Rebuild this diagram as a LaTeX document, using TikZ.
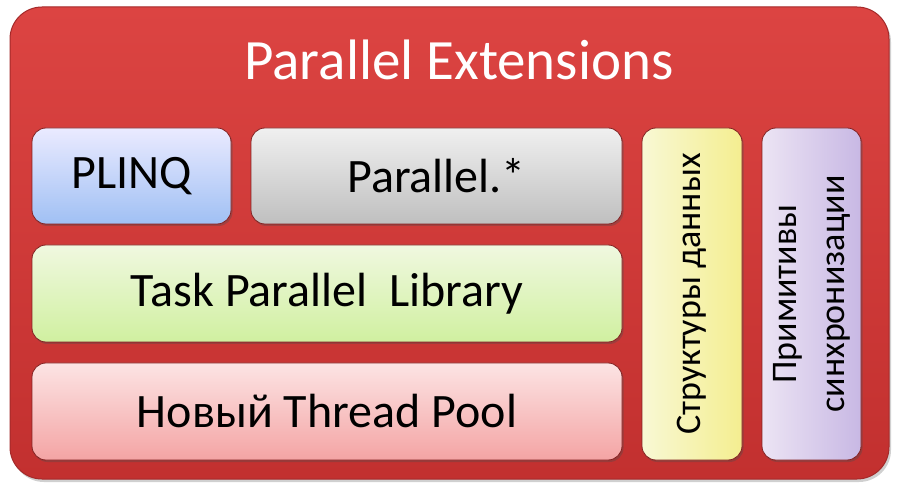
\documentclass[tikz,border=0pt]{standalone}
\usepackage{fontspec}
\setmainfont{Carlito}
\usetikzlibrary{shadows}
\definecolor{redtop}{HTML}{DC4442}
\definecolor{redbot}{HTML}{C2302F}
\definecolor{redline}{HTML}{A42A2A}
\tikzset{
  box/.style={rounded corners=14pt, draw=redline!80!black, line width=0.8pt,
    drop shadow={shadow xshift=1.5pt, shadow yshift=-2pt, opacity=0.35, fill=black!70},
    font=\fontsize{48}{52}\selectfont, text=black, inner sep=0pt},
  vtext/.style={rotate=90, align=center, font=\fontsize{36}{48}\selectfont},
}
\begin{document}
\begin{tikzpicture}[x=1pt,y=-1pt]
\useasboundingbox (0,0) rectangle (900,494);
\fill[white] (0,0) rectangle (900,494);
% outer
\draw[rounded corners=32pt, draw=redline, line width=1pt, top color=redtop, bottom color=redbot,
  drop shadow={shadow xshift=2pt, shadow yshift=-3pt, opacity=0.3, fill=black!60}]
  (10,7) rectangle (889,479);
\node[text=white, font=\fontsize{57}{60}\selectfont] (title) at (459,60) {Parallel Extensions};
% boxes
\path[box, top color=blue!8!white, bottom color={rgb,255:red,160;green,192;blue,244}]
  (32,128) rectangle node (plinq) {PLINQ} (231,224);
\path[box, top color=black!6, bottom color=black!25]
  (251,128) rectangle node (par) {Parallel.*} (622,224);
\path[box, top color={rgb,255:red,240;green,248;blue,224}, bottom color={rgb,255:red,208;green,240;blue,160}]
  (32,245) rectangle node (tpl) {Task Parallel\ \ Library} (622,342);
\path[box, top color={rgb,255:red,252;green,228;blue,228}, bottom color={rgb,255:red,244;green,164;blue,164}]
  (32,363) rectangle node (pool) {Новый Thread Pool} (622,460);
\path[box, left color={rgb,255:red,248;green,248;blue,212}, right color={rgb,255:red,244;green,238;blue,144}]
  (642,128) rectangle node[vtext] (ds) {Структуры данных} (742,460);
\path[box, left color={rgb,255:red,236;green,228;blue,244}, right color={rgb,255:red,200;green,184;blue,228}]
  (762,128) rectangle node[vtext] (sync) {Примитивы\\синхронизации} (861,460);
\end{tikzpicture}
\end{document}
